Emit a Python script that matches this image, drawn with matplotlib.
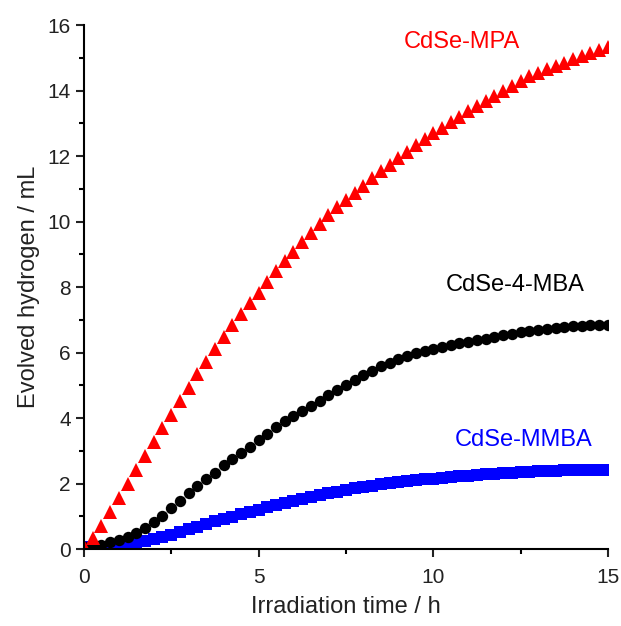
import numpy as np
import matplotlib
matplotlib.use("Agg")
import matplotlib.pyplot as plt
from matplotlib.ticker import MultipleLocator

plt.rcParams["font.family"] = ["Liberation Sans", "DejaVu Sans"]

# sampling every 0.25 h, 0 .. 15 h
hours = np.linspace(0, 15, 61)

mpa = [0.08, 0.33, 0.70, 1.12, 1.55, 1.98, 2.42, 2.85, 3.28, 3.70,
       4.10, 4.52, 4.93, 5.33, 5.72, 6.10, 6.47, 6.83, 7.17, 7.51,
       7.83, 8.16, 8.48, 8.79, 9.08, 9.37, 9.65, 9.93, 10.19, 10.43,
       10.66, 10.88, 11.10, 11.33, 11.55, 11.74, 11.94, 12.13, 12.33, 12.53,
       12.70, 12.85, 13.03, 13.20, 13.36, 13.52, 13.68, 13.83, 13.98, 14.13,
       14.28, 14.43, 14.55, 14.65, 14.75, 14.85, 14.95, 15.05, 15.15, 15.25,
       15.33]

mba4 = [0.05, 0.08, 0.13, 0.20, 0.28, 0.38, 0.50, 0.64, 0.82, 1.02,
        1.24, 1.48, 1.71, 1.93, 2.13, 2.33, 2.55, 2.74, 2.94, 3.13,
        3.32, 3.52, 3.72, 3.90, 4.06, 4.21, 4.36, 4.51, 4.70, 4.86,
        5.00, 5.15, 5.30, 5.45, 5.58, 5.69, 5.79, 5.88, 5.97, 6.04,
        6.10, 6.17, 6.23, 6.28, 6.32, 6.37, 6.42, 6.47, 6.52, 6.58,
        6.63, 6.67, 6.70, 6.72, 6.75, 6.78, 6.80, 6.82, 6.83, 6.84,
        6.85]

mmba = [0.06, 0.06, 0.07, 0.07, 0.08, 0.11, 0.17, 0.24, 0.31, 0.38,
        0.44, 0.52, 0.60, 0.68, 0.76, 0.84, 0.92, 0.99, 1.06, 1.13,
        1.20, 1.27, 1.34, 1.41, 1.47, 1.53, 1.59, 1.65, 1.70, 1.75,
        1.80, 1.85, 1.89, 1.93, 1.97, 2.01, 2.04, 2.07, 2.10, 2.13,
        2.15, 2.17, 2.20, 2.22, 2.24, 2.26, 2.28, 2.30, 2.31, 2.33,
        2.34, 2.36, 2.37, 2.38, 2.39, 2.40, 2.40, 2.41, 2.41, 2.41,
        2.41]

fig = plt.figure(figsize=(6.21, 6.26), dpi=100)
ax = fig.add_axes([0.135, 0.123, 0.844, 0.837])

ax.plot(hours, mmba, ls="none", marker="s", ms=8, color="blue", mew=0)
ax.plot(hours, mba4, ls="none", marker="o", ms=8.2, color="black", mew=0)
ax.plot(hours, mpa, ls="none", marker="^", ms=10, color="red", mew=0)

ax.text(10.83, 15.47, "CdSe-MPA", color="red", fontsize=17, ha="center", va="center")
ax.text(12.35, 8.07, "CdSe-4-MBA", color="black", fontsize=17, ha="center", va="center")
ax.text(12.6, 3.33, "CdSe-MMBA", color="blue", fontsize=17, ha="center", va="center")

ax.set_xlim(0, 15)
ax.set_ylim(0, 16)
ax.xaxis.set_major_locator(MultipleLocator(5))
ax.xaxis.set_minor_locator(MultipleLocator(2.5))
ax.yaxis.set_major_locator(MultipleLocator(2))
ax.yaxis.set_minor_locator(MultipleLocator(1))

for side in ["top", "right"]:
    ax.spines[side].set_visible(False)
for side in ["left", "bottom"]:
    ax.spines[side].set_linewidth(1.5)
ax.tick_params(which="major", direction="out", length=6, width=1.5, labelsize=15, colors="#222222")
ax.tick_params(which="minor", direction="out", length=3.5, width=1.5)
ax.tick_params(axis="x", pad=8)

ax.set_xlabel("Irradiation time / h", fontsize=17, color="#222222", labelpad=6)
ax.set_ylabel("Evolved hydrogen / mL", fontsize=17, color="#222222", labelpad=5)

fig.savefig("out.png", dpi=100)
